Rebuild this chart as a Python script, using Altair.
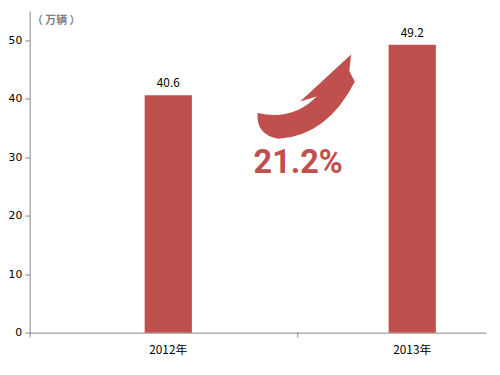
import altair as alt
import pandas as pd

years = ["2012年", "2013年"]
sales = [40.6, 49.2]
y_ticks = [0, 10, 20, 30, 40, 50]
growth_label = "21.2%"
unit_label = "（ 万辆 ）"

RED = "#C0504D"
GRAY = "#868686"
FONT = "Noto Sans CJK SC"

df = pd.DataFrame({"year": years, "sales": sales})

x_scale = alt.Scale(paddingInner=0.8065, paddingOuter=0.3387, align=0.696)
y_scale = alt.Scale(domain=[0, 55], nice=False)

base = alt.Chart(df).encode(
    x=alt.X("year:N", scale=x_scale, sort=years,
            axis=alt.Axis(title=None, labelAngle=0, ticks=False, domainColor=GRAY,
                          labelFont=FONT, labelFontSize=12, labelColor="#000",
                          labelPadding=12)),
    y=alt.Y("sales:Q", scale=y_scale,
            axis=alt.Axis(values=y_ticks, grid=False, domainColor=GRAY, tickColor=GRAY,
                          tickSize=5, labelFont="DejaVu Sans", labelFontSize=11, labelColor="#000",
                          labelPadding=3,
                          title=unit_label, titleAngle=0, titleX=2, titleY=10,
                          titleAlign="left", titleBaseline="middle", titleColor="#7f7f7f",
                          titleFont=FONT, titleFontSize=11, titleFontWeight="bold")),
)

bars = base.mark_bar(size=48, color=RED)
labels = base.mark_text(dy=-8, baseline="alphabetic", fontSize=12, font=FONT, color="#000").encode(
    text=alt.Text("sales:Q", format=".1f"))

arrow_path = ("M 0.934 -0.854 L -0.1 0.1 L 0.234 0 Q -0.25 0.5 -0.966 0.334 "
              "Q -1 0.78 -0.54 0.86 Q 0.45 0.8 1.01 -0.3 L 0.9 -0.52 Z")
arrow = alt.Chart(pd.DataFrame({"a": [1]})).mark_point(
    shape=arrow_path, filled=True, color=RED, opacity=1, size=10000, strokeWidth=0
).encode(x=alt.value(280), y=alt.value(87))

pct = alt.Chart(pd.DataFrame({"t": [growth_label]})).mark_text(
    font="Roboto", fontSize=33, fontWeight="bold", color=RED, align="center", baseline="alphabetic"
).encode(x=alt.value(273), y=alt.value(165), text="t:N")

tick1 = alt.Chart(pd.DataFrame({"a": [1]})).mark_rule(color=GRAY).encode(
    x=alt.value(0.5), y=alt.value(327), y2=alt.value(332))
tick2 = alt.Chart(pd.DataFrame({"a": [1]})).mark_rule(color=GRAY).encode(
    x=alt.value(272.5), y=alt.value(327), y2=alt.value(332))

chart = alt.layer(bars, labels, arrow, pct, tick1, tick2).properties(
    width=464, height=327,
    background="white",
    autosize=alt.AutoSizeParams(type="none"),
    padding={"left": 22, "top": 0, "right": 6, "bottom": 35},
).configure_view(strokeWidth=0)

chart.save("out.html", embed_options={"renderer": "svg", "actions": False})
